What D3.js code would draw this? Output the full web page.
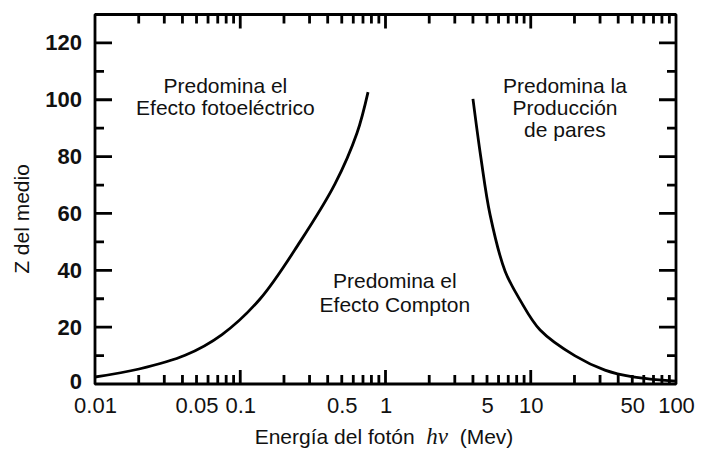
<!DOCTYPE html>
<html>
<head>
<meta charset="utf-8">
<script src="https://cdn.jsdelivr.net/npm/d3@7"></script>
<style>
  html, body { margin: 0; padding: 0; background: #fff; }
  svg { display: block; font-family: "Liberation Sans", Arial, sans-serif; }
</style>
</head>
<body>
<svg id="chart" width="701" height="450"></svg>
<script>
// ---- data ----
const photoEnergy = [0.01, 0.0201, 0.0417, 0.0749, 0.1368, 0.2578, 0.449, 0.6365, 0.758];
const photoZ      = [2.46, 5.28,   10.1,   17.4,   29.9,   50.0,   70.4,  88.3,   102.7];
const pairEnergy  = [4.0,   4.54, 5.25, 6.66, 8.43, 11.6, 20.2, 32.4, 50.6, 100];
const pairZ       = [100.3, 79.5, 59.5, 39.7, 29.6, 19,   9.9,  4.9,  2.5,  1.0];
const xLabelValues = [0.01, 0.05, 0.1, 0.5, 1, 5, 10, 50, 100];
const xLabelTexts  = ["0.01", "0.05", "0.1", "0.5", "1", "5", "10", "50", "100"];
const xDecadeTicks = [0.01, 0.1, 1, 10, 100];
const xMinorMultipliers = [2, 3, 4, 5, 6, 7, 8, 9];
const yLabelValues = [0, 20, 40, 60, 80, 100, 120];
const yMinorValues = [10, 30, 50, 70, 90, 110];
const annotations = [
  { x: 0.079, z: 102.4, lines: ["Predomina el", "Efecto fotoeléctrico"], step: 22 },
  { x: 1.16,  z: 33.8,  lines: ["Predomina el", "Efecto Compton"], step: 24 },
  { x: 17.2,  z: 102.4, lines: ["Predomina la", "Producción", "de pares"], step: 22 }
];

// ---- scales ----
const svg = d3.select("#chart");
const x = d3.scaleLog().domain([0.01, 100]).range([95, 676]);
const y = d3.scaleLinear().domain([0, 130]).range([384, 14.5]);

const xMinorTicks = [];
xDecadeTicks.slice(0, 4).forEach(d => xMinorMultipliers.forEach(m => xMinorTicks.push(+(d * m).toPrecision(3))));
const xTicks = xMinorTicks.map(v => ({ v, len: 9 })).concat(xDecadeTicks.slice(1, 4).map(v => ({ v, len: 14 })))
  .sort((a, b) => a.v - b.v);
const yTicks = yMinorValues.map(v => ({ v, len: 9 })).concat(yLabelValues.filter(v => v > 0).map(v => ({ v, len: 17 })))
  .sort((a, b) => a.v - b.v);

// ---- frame drawn as one continuous path with the inward tick marks ----
const x0 = x(0.01), x1 = x(100), yb = y(0), yt = y(130);
const pts = [[x0, yb]];
xTicks.forEach(t => { const px = x(t.v); pts.push([px, yb], [px, yb - t.len], [px, yb]); });
pts.push([x1, yb]);
yTicks.forEach(t => { const py = y(t.v); pts.push([x1, py], [x1 - t.len, py], [x1, py]); });
pts.push([x1, yt]);
xTicks.slice().reverse().forEach(t => { const px = x(t.v); pts.push([px, yt], [px, yt + t.len], [px, yt]); });
pts.push([x0, yt]);
yTicks.slice().reverse().forEach(t => { const py = y(t.v); pts.push([x0, py], [x0 + t.len, py], [x0, py]); });
pts.push([x0, yb]);
svg.append("path").attr("d", d3.line()(pts) + "Z")
  .attr("fill", "none").attr("stroke", "#000").attr("stroke-width", 2.8)
  .attr("stroke-linejoin", "bevel");

// ---- labels through axes ----
const gBL = svg.append("g").attr("transform", `translate(0,${yb})`)
  .call(d3.axisBottom(x).tickValues(xLabelValues).tickSize(0).tickPadding(13).tickFormat((d, i) => xLabelTexts[i]));
gBL.select(".domain").remove();
gBL.selectAll(".tick text").attr("font-size", 22).attr("font-family", "Liberation Sans, Arial, sans-serif").attr("fill", "#111");
const gLL = svg.append("g").attr("transform", `translate(${x0},0)`)
  .call(d3.axisLeft(y).tickValues(yLabelValues).tickSize(0).tickPadding(13));
gLL.select(".domain").remove();
gLL.selectAll(".tick text").attr("font-size", 22).attr("font-weight", "bold")
  .attr("font-family", "Liberation Sans, Arial, sans-serif").attr("fill", "#111")
  .attr("dy", d => d === 0 ? "0.2em" : "0.32em");

// ---- curves ----
const line = d3.line().x(d => x(d[0])).y(d => y(d[1])).curve(d3.curveCatmullRom.alpha(0.5));
svg.append("path").datum(photoEnergy.map((e, i) => [e, photoZ[i]]))
  .attr("d", line).attr("fill", "none").attr("stroke", "#000").attr("stroke-width", 2.8);
svg.append("path").datum(pairEnergy.map((e, i) => [e, pairZ[i]]))
  .attr("d", line).attr("fill", "none").attr("stroke", "#000").attr("stroke-width", 2.8);

// ---- annotations ----
annotations.forEach(a => {
  a.lines.forEach((l, i) => svg.append("text")
    .attr("x", x(a.x)).attr("y", y(a.z) + i * a.step)
    .attr("text-anchor", "middle").attr("font-size", 21).attr("fill", "#111").text(l));
});

// ---- axis titles ----
const xt = svg.append("text").attr("x", 384).attr("y", 444).attr("text-anchor", "middle")
  .attr("font-size", 21).attr("fill", "#111").attr("xml:space", "preserve").style("white-space", "pre");
xt.append("tspan").text("Energía del fotón  ");
xt.append("tspan").attr("font-family", "Liberation Serif, Times New Roman, serif")
  .attr("font-style", "italic").attr("font-size", 23).text("hν");
xt.append("tspan").text("  (Mev)");

svg.append("text").attr("transform", "translate(29,219) rotate(-90)").attr("text-anchor", "middle")
  .attr("font-size", 21).attr("fill", "#111").text("Z del medio");
</script>
</body>
</html>
